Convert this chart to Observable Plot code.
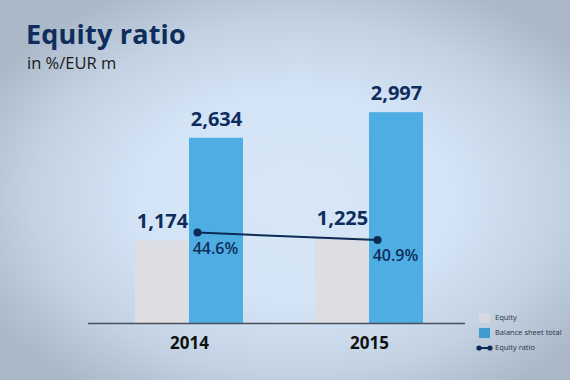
<!DOCTYPE html>
<html>
<head>
<meta charset="utf-8">
<script src="https://cdn.jsdelivr.net/npm/d3@7"></script>
<script src="https://cdn.jsdelivr.net/npm/@observablehq/plot@0.6"></script>
<style>
  html, body { margin: 0; padding: 0; }
  #wrap {
    position: relative; width: 570px; height: 380px; overflow: hidden;
    background: radial-gradient(ellipse 62% 62% at 52% 52%, #d7e7f8 0%, #d3e4f6 45%, #c3d2e3 75%, #aab8c8 100%);
    font-family: "Open Sans", sans-serif;
  }
  #title { position: absolute; left: 26px; top: 20px; font-size: 27px; font-weight: 700; color: #0f2d5c; margin: 0; line-height: 1; letter-spacing: 0.2px; }
  #subtitle { position: absolute; left: 27px; top: 55px; font-size: 16.5px; color: #1a1a1a; line-height: 1; }
  #chart { position: absolute; left: 0; top: 0; }
  .leg { position: absolute; font-size: 7.5px; color: #2a3140; line-height: 1; white-space: nowrap; }
  .sw { position: absolute; width: 11px; height: 10px; }
</style>
</head>
<body>
<div id="wrap">
  <div id="title">Equity ratio</div>
  <div id="subtitle">in %/EUR m</div>
  <div id="chart"></div>
  <div class="sw" style="left:479px;top:313px;background:#d6d9df"></div>
  <div class="leg" style="left:495px;top:314px">Equity</div>
  <div class="sw" style="left:479px;top:328px;background:#3f9ad0"></div>
  <div class="leg" style="left:495px;top:329px">Balance sheet total</div>
  <svg style="position:absolute;left:476px;top:344px" width="18" height="8">
    <line x1="3" y1="4" x2="14" y2="4" stroke="#0b2a55" stroke-width="2"/>
    <circle cx="3" cy="4" r="2.6" fill="#0b2a55"/>
    <circle cx="14" cy="4" r="2.6" fill="#0b2a55"/>
  </svg>
  <div class="leg" style="left:495px;top:344px">Equity ratio</div>
</div>
<script>
const years = ["2014", "2015"];
const equity = [1174, 1225];
const balanceSheetTotal = [2634, 2997];
const equityRatio = [44.6, 40.9];
const ratioLabels = ["44.6%", "40.9%"];
// the ratio is drawn on its own (unlabelled) axis: 1 % = 29 units of the EUR m scale
const ratioToValue = 29;

const rows = years.map((y, i) => ({
  year: y,
  equity: equity[i],
  total: balanceSheetTotal[i],
  ratio: equityRatio[i] * ratioToValue,
  ratioLabel: ratioLabels[i]
}));

const fmt = d3.format(",");
const navy = "#0f2d5c";

const chart = Plot.plot({
  width: 570,
  height: 380,
  marginLeft: 45,
  marginRight: 57,
  marginTop: 112,
  marginBottom: 57,
  style: { background: "transparent", fontFamily: "'Open Sans', sans-serif", overflow: "visible" },
  x: { domain: years, paddingInner: 0.4, paddingOuter: 0.5, axis: null, label: null },
  y: { domain: [0, 3000], axis: null },
  marks: [
    Plot.barY(rows, { x: "year", y: "equity", fill: "#dcdee3", insetRight: 54.5 }),
    Plot.barY(rows, { x: "year", y: "total", fill: "#4eaee3", insetLeft: 54 }),
    Plot.ruleY([0], { stroke: "#4a4f57", strokeWidth: 1.5, insetLeft: 43, insetRight: 48 }),
    Plot.axisX({ tickSize: 0, tickPadding: 13, fontSize: 17, fontWeight: 700, color: "#111", label: null }),
    Plot.text(rows, { x: "year", y: "equity", text: d => fmt(d.equity), dx: -27, dy: -19, lineAnchor: "middle", fontSize: 20, fontWeight: 700, fill: navy }),
    Plot.text(rows, { x: "year", y: "total", text: d => fmt(d.total), dx: 27, dy: -19, lineAnchor: "middle", fontSize: 20, fontWeight: 700, fill: navy }),
    Plot.line(rows, { x: "year", y: "ratio", dx: 8, stroke: "#0b2a55", strokeWidth: 2 }),
    Plot.dot(rows, { x: "year", y: "ratio", dx: 8, r: 4, fill: "#0b2a55" }),
    Plot.text(rows, { x: "year", y: "ratio", text: "ratioLabel", dx: 26, dy: 16, lineAnchor: "middle", fontSize: 16, fontWeight: 600, fill: navy })
  ]
});
document.getElementById("chart").appendChild(chart);
</script>
</body>
</html>
